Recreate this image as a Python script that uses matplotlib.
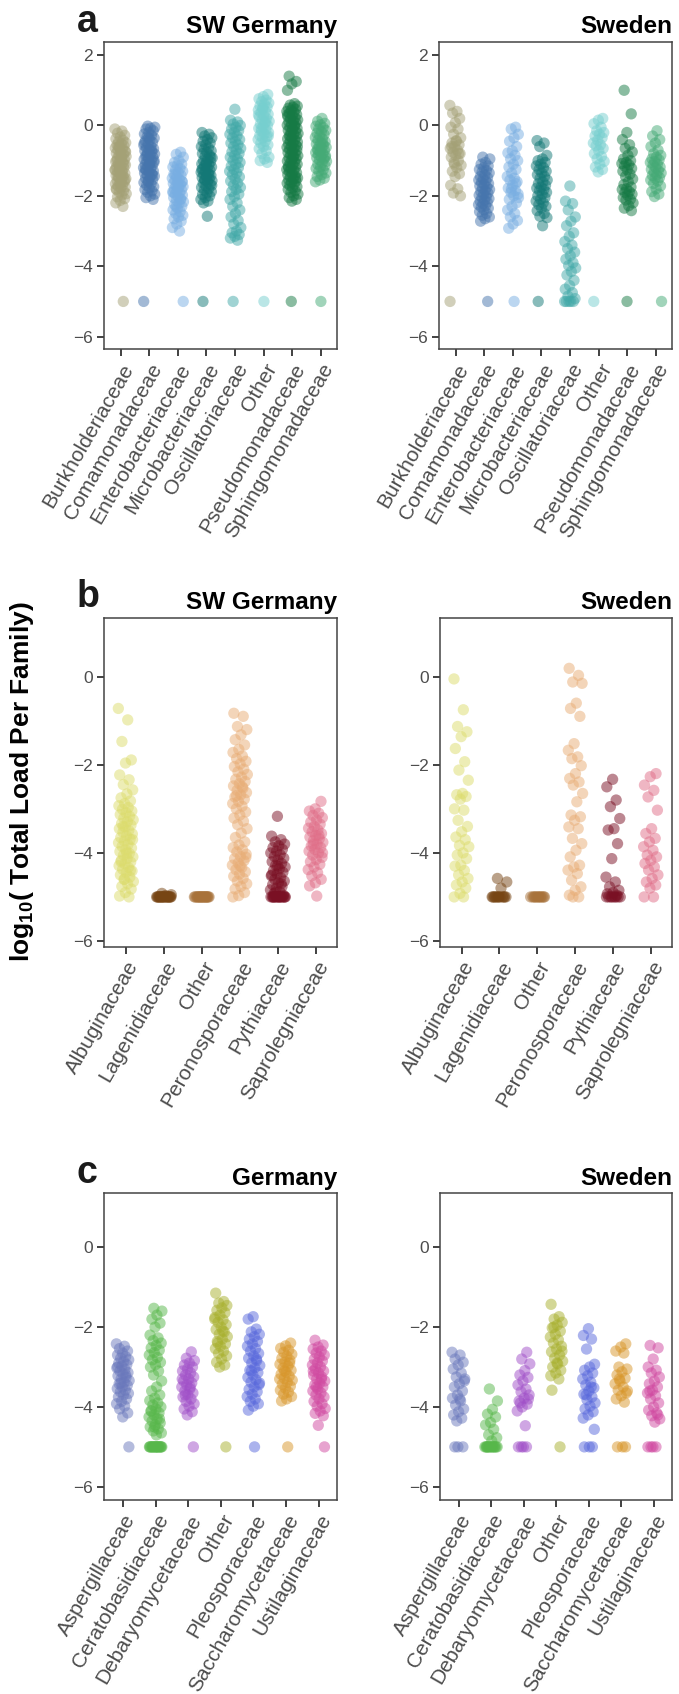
import numpy as np
import matplotlib
matplotlib.use("Agg")
import matplotlib.pyplot as plt

plt.rcParams["font.family"] = ["Liberation Sans", "DejaVu Sans"]
plt.rcParams["mathtext.fontset"] = "custom"
plt.rcParams["mathtext.rm"] = "Liberation Sans"
plt.rcParams["mathtext.bf"] = "Liberation Sans:bold"

W, H = 679, 1694

## families and colours
fam_a = ["Burkholderiaceae", "Comamonadaceae", "Enterobacteriaceae", "Microbacteriaceae",
         "Oscillatoriaceae", "Other", "Pseudomonadaceae", "Sphingomonadaceae"]
col_a = ["#a4a176", "#4675ad", "#78aee2", "#137876", "#42a9a8", "#76cfcf", "#167a45", "#45aa76"]

fam_b = ["Albuginaceae", "Lagenidiaceae", "Other", "Peronosporaceae", "Pythiaceae", "Saprolegniaceae"]
col_b = ["#dcdc6c", "#774514", "#a8723a", "#e8ac74", "#7a1024", "#e06e88"]

fam_c = ["Aspergillaceae", "Ceratobasidiaceae", "Debaryomycetaceae", "Other",
         "Pleosporaceae", "Saccharomycetaceae", "Ustilaginaceae"]
col_c = ["#6a78bc", "#57b74a", "#a04fc8", "#a8b02e", "#5868dc", "#d8962a", "#d048a0"]

## a: bacteria, SW Germany (log10 load per sample)
a_de_burk = [-0.1, -0.16, -0.22, -0.28, -0.33, -0.38, -0.42, -0.46, -0.49, -0.52, -0.55, -0.58,
             -0.61, -0.64, -0.67, -0.7, -0.73, -0.76, -0.79, -0.82, -0.85, -0.88, -0.91, -0.94,
             -0.97, -1.0, -1.03, -1.06, -1.09, -1.12, -1.15, -1.18, -1.21, -1.24, -1.27, -1.3,
             -1.33, -1.36, -1.39, -1.42, -1.45, -1.48, -1.51, -1.54, -1.57, -1.6, -1.63, -1.66,
             -1.69, -1.72, -1.75, -1.78, -1.82, -1.86, -1.9, -1.94, -1.98, -2.03, -2.08, -2.13,
             -2.2, -2.3, -0.6, -0.75, -0.9, -1.0, -1.1, -1.2, -1.25, -1.35, -1.45, -1.55, -1.65,
             -1.8, -5.0]
a_de_coma = [-0.02, -0.05, -0.08, -0.1, -0.15, -0.2, -0.24, -0.28, -0.32, -0.36, -0.4, -0.44,
             -0.48, -0.52, -0.56, -0.6, -0.63, -0.66, -0.69, -0.72, -0.75, -0.78, -0.81, -0.84,
             -0.87, -0.9, -0.93, -0.96, -0.99, -1.02, -1.05, -1.08, -1.11, -1.14, -1.17, -1.2,
             -1.23, -1.26, -1.29, -1.32, -1.35, -1.38, -1.41, -1.44, -1.47, -1.5, -1.54, -1.58,
             -1.62, -1.66, -1.7, -1.74, -1.78, -1.82, -1.86, -1.9, -1.95, -2.0, -2.05, -2.1,
             -0.35, -0.5, -0.7, -0.85, -1.0, -1.1, -1.25, -1.4, -1.6, -5.0]
a_de_ente = [-0.76, -0.82, -0.9, -1.0, -1.05, -1.1, -1.14, -1.18, -1.22, -1.26, -1.3, -1.34,
             -1.38, -1.42, -1.46, -1.5, -1.53, -1.56, -1.59, -1.62, -1.65, -1.68, -1.71, -1.74,
             -1.77, -1.8, -1.83, -1.86, -1.89, -1.92, -1.95, -1.98, -2.01, -2.05, -2.09, -2.13,
             -2.17, -2.21, -2.25, -2.3, -2.35, -2.4, -2.45, -2.5, -2.55, -2.6, -2.65, -2.72,
             -2.8, -2.9, -3.0, -1.4, -1.6, -1.75, -1.9, -2.1, -2.3, -5.0]
a_de_micr = [-0.2, -0.25, -0.3, -0.35, -0.4, -0.45, -0.5, -0.55, -0.6, -0.64, -0.68, -0.72,
             -0.76, -0.8, -0.84, -0.88, -0.92, -0.96, -1.0, -1.03, -1.06, -1.09, -1.12, -1.15,
             -1.18, -1.21, -1.24, -1.27, -1.3, -1.33, -1.36, -1.39, -1.42, -1.45, -1.48, -1.51,
             -1.54, -1.57, -1.6, -1.64, -1.68, -1.72, -1.76, -1.8, -1.84, -1.88, -1.92, -1.96,
             -2.0, -2.05, -2.1, -2.15, -2.2, -0.9, -1.1, -1.25, -1.4, -1.55, -1.7, -2.58, -5.0]
a_de_osci = [0.46, 0.15, 0.1, 0.04, 0.0, -0.05, -0.1, -0.15, -0.2, -0.25, -0.3, -0.35, -0.4,
             -0.45, -0.5, -0.55, -0.6, -0.65, -0.7, -0.75, -0.8, -0.85, -0.9, -0.95, -1.0, -1.05,
             -1.1, -1.15, -1.2, -1.25, -1.3, -1.35, -1.4, -1.46, -1.52, -1.58, -1.64, -1.7, -1.76,
             -1.82, -1.88, -1.95, -2.02, -2.1, -2.2, -2.3, -2.4, -2.5, -2.6, -2.7, -2.8, -2.9,
             -3.0, -3.05, -3.1, -3.15, -3.2, -3.26, -5.0]
a_de_othe = [0.88, 0.82, 0.76, 0.72, 0.68, 0.64, 0.6, 0.56, 0.52, 0.48, 0.44, 0.4, 0.36, 0.32,
             0.28, 0.24, 0.2, 0.16, 0.12, 0.08, 0.04, 0.0, -0.04, -0.08, -0.12, -0.16, -0.2,
             -0.24, -0.28, -0.32, -0.36, -0.4, -0.45, -0.5, -0.55, -0.6, -0.66, -0.72, -0.8,
             -0.9, -0.95, -1.0, -1.05, 0.5, 0.3, 0.1, -0.1, -0.3, -5.0]
a_de_pseu = [1.4, 1.25, 1.18, 1.0, 0.62, 0.58, 0.55, 0.52, 0.49, 0.46, 0.43, 0.4, 0.37, 0.34,
             0.31, 0.28, 0.25, 0.22, 0.19, 0.16, 0.13, 0.1, 0.07, 0.04, 0.01, -0.02, -0.05, -0.08,
             -0.11, -0.14, -0.17, -0.2, -0.23, -0.26, -0.29, -0.32, -0.35, -0.38, -0.41, -0.44,
             -0.47, -0.5, -0.53, -0.56, -0.59, -0.62, -0.65, -0.68, -0.71, -0.74, -0.77, -0.8,
             -0.83, -0.86, -0.89, -0.92, -0.95, -0.98, -1.01, -1.04, -1.07, -1.1, -1.13, -1.16,
             -1.19, -1.22, -1.25, -1.28, -1.31, -1.34, -1.37, -1.4, -1.43, -1.46, -1.49, -1.52,
             -1.55, -1.58, -1.61, -1.64, -1.67, -1.7, -1.74, -1.78, -1.82, -1.86, -1.9, -1.95,
             -2.0, -2.05, -2.1, -2.15, 0.3, 0.0, -0.3, -0.6, -0.9, -1.2, -1.5, -5.0]
a_de_sphi = [0.2, 0.12, 0.06, 0.02, -0.02, -0.06, -0.1, -0.14, -0.18, -0.22, -0.26, -0.3, -0.34,
             -0.38, -0.42, -0.46, -0.5, -0.53, -0.56, -0.59, -0.62, -0.65, -0.68, -0.71, -0.74,
             -0.77, -0.8, -0.83, -0.86, -0.89, -0.92, -0.95, -0.98, -1.02, -1.06, -1.1, -1.14,
             -1.18, -1.22, -1.26, -1.3, -1.35, -1.4, -1.45, -1.5, -1.55, -1.6, -0.5, -0.7, -0.9,
             -5.0]

## a: bacteria, Sweden
a_se_burk = [0.57, 0.4, 0.35, 0.2, 0.08, -0.05, -0.1, -0.25, -0.35, -0.43, -0.5, -0.55, -0.6,
             -0.65, -0.7, -0.76, -0.8, -0.85, -0.9, -1.0, -1.05, -1.13, -1.2, -1.3, -1.37, -1.45,
             -1.7, -1.8, -1.92, -2.0, -0.45, -0.6, -0.8, -1.1, -5.0]
a_se_coma = [-0.9, -0.95, -1.05, -1.1, -1.15, -1.2, -1.25, -1.28, -1.32, -1.35, -1.4, -1.45,
             -1.48, -1.52, -1.55, -1.58, -1.62, -1.65, -1.68, -1.72, -1.75, -1.78, -1.82, -1.85,
             -1.88, -1.92, -1.95, -1.98, -2.02, -2.05, -2.08, -2.12, -2.15, -2.18, -2.22, -2.25,
             -2.28, -2.32, -2.35, -2.4, -2.45, -2.5, -2.55, -2.6, -2.65, -2.72, -5.0]
a_se_ente = [-0.05, -0.1, -0.25, -0.35, -0.45, -0.6, -0.72, -0.78, -0.85, -0.95, -1.0, -1.1,
             -1.18, -1.25, -1.35, -1.45, -1.5, -1.55, -1.6, -1.7, -1.78, -1.85, -1.9, -1.95, -2.0,
             -2.1, -2.2, -2.3, -2.4, -2.5, -2.6, -2.7, -2.8, -2.92, -1.65, -1.8, -2.05, -5.0]
a_se_micr = [-0.43, -0.5, -0.6, -0.85, -0.95, -1.0, -1.05, -1.1, -1.15, -1.2, -1.25, -1.3, -1.35,
             -1.4, -1.45, -1.5, -1.55, -1.6, -1.65, -1.7, -1.75, -1.78, -1.82, -1.85, -1.9, -1.95,
             -2.0, -2.05, -2.1, -2.15, -2.2, -2.25, -2.3, -2.35, -2.42, -2.5, -2.58, -2.62, -2.85,
             -5.0]
a_se_osci = [-1.72, -2.15, -2.22, -2.4, -2.6, -2.72, -2.85, -3.05, -3.15, -3.3, -3.4, -3.5, -3.6,
             -3.7, -3.8, -3.9, -3.98, -4.05, -4.15, -4.25, -4.4, -4.55, -4.65, -4.75, -4.85, -4.92,
             -5.0, -5.0, -5.0, -5.0, -5.0]
a_se_othe = [0.2, 0.15, 0.05, -0.05, -0.15, -0.2, -0.25, -0.3, -0.35, -0.42, -0.5, -0.55, -0.58,
             -0.65, -0.72, -0.8, -0.88, -0.95, -1.02, -1.1, -1.18, -1.25, -1.32, -5.0]
a_se_pseu = [1.0, 0.33, -0.2, -0.4, -0.55, -0.65, -0.75, -0.85, -0.95, -1.0, -1.05, -1.08, -1.12,
             -1.15, -1.22, -1.26, -1.3, -1.38, -1.45, -1.52, -1.6, -1.68, -1.75, -1.8, -1.82,
             -1.88, -1.9, -1.95, -1.98, -2.05, -2.1, -2.12, -2.2, -2.28, -2.35, -2.42, -5.0]
a_se_sphi = [-0.15, -0.3, -0.4, -0.5, -0.6, -0.7, -0.8, -0.85, -0.9, -0.95, -0.98, -1.02, -1.05,
             -1.1, -1.12, -1.18, -1.2, -1.25, -1.28, -1.32, -1.35, -1.4, -1.42, -1.48, -1.5,
             -1.55, -1.58, -1.65, -1.72, -1.8, -1.88, -1.95, -2.02, -5.0]

## b: oomycetes, SW Germany
b_de_albu = [-0.72, -0.98, -1.47, -1.89, -1.96, -2.23, -2.34, -2.45, -2.57, -2.66, -2.75, -2.82,
             -2.88, -2.93, -2.97, -3.01, -3.05, -3.09, -3.13, -3.17, -3.21, -3.25, -3.29, -3.33,
             -3.37, -3.41, -3.45, -3.49, -3.53, -3.57, -3.61, -3.65, -3.69, -3.73, -3.77, -3.81,
             -3.85, -3.89, -3.93, -3.97, -4.01, -4.05, -4.09, -4.13, -4.17, -4.21, -4.25, -4.29,
             -4.33, -4.37, -4.41, -4.45, -4.5, -4.55, -4.6, -4.65, -4.7, -4.76, -4.82, -4.9,
             -4.98, -5.0, -3.4, -3.7, -4.0, -4.2, -4.4, -4.6]
b_de_lage = [-4.92, -4.95, -4.97] + [-5.0] * 20
b_de_othe = [-5.0] * 20
b_de_pero = [-0.83, -0.9, -1.13, -1.2, -1.32, -1.43, -1.55, -1.65, -1.72, -1.8, -1.86, -1.92,
             -1.98, -2.04, -2.1, -2.16, -2.22, -2.28, -2.33, -2.38, -2.43, -2.48, -2.53, -2.58,
             -2.63, -2.68, -2.73, -2.78, -2.83, -2.88, -2.94, -3.0, -3.07, -3.14, -3.21, -3.28,
             -3.36, -3.45, -3.55, -3.65, -3.75, -3.82, -3.88, -3.93, -3.98, -4.03, -4.08, -4.13,
             -4.18, -4.23, -4.28, -4.33, -4.38, -4.43, -4.48, -4.53, -4.58, -4.64, -4.7, -4.76,
             -4.82, -4.9, -4.97, -5.0, -2.5, -2.7, -4.1, -4.3]
b_de_pyth = [-3.17, -3.62, -3.7, -3.75, -3.8, -3.84, -3.88, -3.92, -3.96, -4.0, -4.04, -4.08,
             -4.12, -4.16, -4.2, -4.24, -4.28, -4.32, -4.36, -4.4, -4.44, -4.48, -4.52, -4.56,
             -4.6, -4.64, -4.68, -4.72, -4.76, -4.8, -4.84, -4.88, -4.92, -4.96, -4.3, -4.5, -4.7,
             -4.9] + [-5.0] * 16
b_de_sapr = [-2.83, -3.0, -3.05, -3.1, -3.15, -3.2, -3.25, -3.3, -3.35, -3.4, -3.44, -3.48,
             -3.52, -3.56, -3.6, -3.64, -3.68, -3.72, -3.76, -3.8, -3.84, -3.88, -3.92, -3.96,
             -4.0, -4.05, -4.1, -4.15, -4.2, -4.26, -4.32, -4.38, -4.45, -4.52, -4.6, -4.68,
             -4.75, -3.6, -3.8, -4.0, -4.98]

## b: oomycetes, Sweden
b_se_albu = [-0.05, -0.75, -1.13, -1.25, -1.36, -1.63, -1.93, -2.12, -2.35, -2.65, -2.68, -2.72,
             -2.78, -3.0, -3.03, -3.26, -3.4, -3.52, -3.64, -3.7, -3.83, -3.86, -4.0, -4.05, -4.13,
             -4.28, -4.3, -4.4, -4.5, -4.58, -4.66, -4.73, -4.8, -4.92, -5.0, -5.0]
b_se_lage = [-4.58, -4.66, -4.8] + [-5.0] * 12
b_se_othe = [-5.0] * 12
b_se_pero = [0.19, 0.03, -0.12, -0.15, -0.6, -0.72, -0.9, -1.52, -1.67, -1.82, -1.86, -2.02, -2.2,
             -2.31, -2.39, -2.46, -2.65, -2.84, -3.14, -3.18, -3.26, -3.41, -3.45, -3.67, -3.79,
             -3.94, -4.09, -4.28, -4.32, -4.39, -4.47, -4.62, -4.77, -4.85, -4.96, -5.0, -5.0]
b_se_pyth = [-2.33, -2.5, -2.8, -2.95, -3.22, -3.45, -3.48, -3.79, -4.13, -4.55, -4.66, -4.77,
             -4.85, -4.9, -4.93, -4.96] + [-5.0] * 8
b_se_sapr = [-2.2, -2.27, -2.46, -2.58, -2.73, -3.03, -3.45, -3.56, -3.67, -3.75, -3.86, -3.94,
             -4.05, -4.09, -4.17, -4.24, -4.32, -4.39, -4.5, -4.58, -4.66, -4.73, -4.8, -5.0, -5.0]

## c: fungi, Germany
c_de_asp = [-2.42, -2.48, -2.54, -2.6, -2.65, -2.7, -2.74, -2.78, -2.82, -2.86, -2.9, -2.94,
            -2.98, -3.02, -3.06, -3.1, -3.14, -3.18, -3.22, -3.26, -3.3, -3.34, -3.38, -3.42,
            -3.46, -3.5, -3.54, -3.58, -3.62, -3.66, -3.7, -3.75, -3.8, -3.86, -3.92, -3.98,
            -4.05, -4.15, -4.25, -3.0, -3.2, -3.4, -5.0]
c_de_cer = [-1.53, -1.6, -1.7, -1.8, -1.9, -2.0, -2.2, -2.27, -2.34, -2.4, -2.46, -2.52, -2.58,
            -2.64, -2.7, -2.76, -2.82, -2.88, -2.94, -3.0, -3.1, -3.2, -3.35, -3.5, -3.6, -3.7,
            -3.78, -3.84, -3.9, -3.95, -4.0, -4.05, -4.1, -4.15, -4.2, -4.25, -4.3, -4.35, -4.4,
            -4.45, -4.5, -4.55, -4.6, -4.65, -4.7, -4.1, -4.3, -4.5] + [-5.0] * 18
c_de_deb = [-2.62, -2.78, -2.84, -2.9, -2.95, -3.0, -3.05, -3.1, -3.15, -3.2, -3.25, -3.3, -3.35,
            -3.4, -3.45, -3.5, -3.55, -3.6, -3.65, -3.7, -3.75, -3.8, -3.86, -3.92, -3.98, -4.05,
            -4.12, -4.2, -3.3, -3.5, -3.7, -5.0]
c_de_oth = [-1.15, -1.36, -1.4, -1.46, -1.52, -1.58, -1.64, -1.7, -1.76, -1.82, -1.88, -1.94,
            -2.0, -2.06, -2.12, -2.18, -2.24, -2.3, -2.36, -2.42, -2.48, -2.54, -2.6, -2.66,
            -2.72, -2.8, -2.88, -2.95, -3.0, -1.8, -2.1, -2.4, -5.0]
c_de_ple = [-1.74, -1.8, -2.05, -2.12, -2.18, -2.24, -2.3, -2.36, -2.42, -2.48, -2.54, -2.6,
            -2.66, -2.72, -2.78, -2.84, -2.9, -2.96, -3.02, -3.08, -3.14, -3.2, -3.26, -3.32,
            -3.38, -3.44, -3.5, -3.56, -3.62, -3.68, -3.74, -3.8, -3.86, -3.92, -3.98, -4.08,
            -2.8, -3.1, -3.4, -5.0]
c_de_sac = [-2.4, -2.47, -2.53, -2.58, -2.63, -2.68, -2.73, -2.78, -2.83, -2.88, -2.93, -2.98,
            -3.03, -3.08, -3.13, -3.18, -3.23, -3.28, -3.33, -3.38, -3.43, -3.48, -3.53, -3.58,
            -3.63, -3.68, -3.74, -3.8, -3.85, -2.9, -3.1, -3.3, -5.0]
c_de_ust = [-2.33, -2.45, -2.5, -2.55, -2.6, -2.65, -2.7, -2.75, -2.8, -2.85, -2.9, -2.95, -3.0,
            -3.05, -3.1, -3.15, -3.2, -3.25, -3.3, -3.35, -3.4, -3.45, -3.5, -3.55, -3.6, -3.65,
            -3.7, -3.75, -3.8, -3.86, -3.92, -3.98, -4.04, -4.1, -4.16, -4.22, -4.46, -3.1,
            -3.3, -3.5, -5.0]

## c: fungi, Sweden
c_se_asp = [-2.63, -2.7, -2.8, -2.88, -2.95, -3.05, -3.15, -3.25, -3.35, -3.42, -3.5, -3.6, -3.7,
            -3.78, -3.85, -3.95, -4.05, -4.12, -4.2, -4.28, -4.35, -3.3, -3.8, -5.0, -5.0, -5.0]
c_se_cer = [-3.55, -3.85, -4.06, -4.18, -4.25, -4.39, -4.45, -4.56, -4.7, -4.77, -4.85] + [-5.0] * 14
c_se_deb = [-2.63, -2.8, -2.92, -3.09, -3.2, -3.26, -3.35, -3.45, -3.55, -3.62, -3.7, -3.78, -3.85,
            -3.93, -4.0, -4.1, -4.47, -3.9, -3.8, -5.0, -5.0, -5.0, -5.0]
c_se_oth = [-1.43, -1.74, -1.8, -1.88, -1.95, -2.02, -2.1, -2.18, -2.25, -2.32, -2.4, -2.48, -2.55,
            -2.62, -2.7, -2.78, -2.85, -2.92, -3.0, -3.08, -3.15, -3.22, -3.3, -2.0, -2.6, -2.9,
            -3.58, -5.0]
c_se_ple = [-2.04, -2.21, -2.3, -2.55, -2.93, -3.0, -3.08, -3.15, -3.22, -3.3, -3.38, -3.45, -3.52,
            -3.6, -3.68, -3.75, -3.82, -3.9, -3.98, -4.05, -4.12, -4.2, -4.28, -3.5, -3.7, -4.56,
            -5.0, -5.0, -5.0]
c_se_sac = [-2.42, -2.5, -2.6, -2.65, -3.0, -3.05, -3.12, -3.2, -3.28, -3.35, -3.42, -3.5, -3.58,
            -3.65, -3.72, -3.8, -3.88, -3.3, -3.6, -5.0, -5.0, -5.0]
c_se_ust = [-2.46, -2.52, -2.8, -3.0, -3.08, -3.15, -3.25, -3.35, -3.42, -3.5, -3.58, -3.65, -3.72,
            -3.8, -3.9, -4.0, -4.08, -4.15, -4.22, -4.3, -4.38, -3.6, -4.2, -5.0, -5.0, -5.0, -5.0]


fig = plt.figure(figsize=(W / 100, H / 100), dpi=100)


def px_axes(l, t, r, b):
    return fig.add_axes([l / W, 1 - b / H, (r - l) / W, (b - t) / H])


def strip(ax, groups, colors):
    # deterministic jitter (golden ratio sequence) so points spread sideways
    for k, (vals, c) in enumerate(zip(groups, colors)):
        frac = (np.arange(len(vals)) * 0.618034 + 0.37 * k) % 1.0
        xs = k + (frac - 0.5) * 0.4
        ax.scatter(xs, vals, s=66, color=c, alpha=0.5, edgecolors="none")


def style(ax, labels, ylim, yticks, title):
    n = len(labels)
    ax.set_xlim(-0.57, n - 1 + 0.57)
    ax.set_ylim(*ylim)
    ax.set_yticks(yticks)
    ax.set_xticks(range(n))
    ax.set_xticklabels(labels, rotation=60, ha="right", va="top",
                       rotation_mode="anchor", fontsize=15, color="#4d4d4d")
    ax.tick_params(axis="y", labelsize=12.5, labelcolor="#4d4d4d")
    ax.tick_params(length=5, width=1.3, color="#333333", direction="out", pad=3)
    for sp in ax.spines.values():
        sp.set_color("#444444")
        sp.set_linewidth(1.1)
    ax.set_title(title, loc="right", fontsize=17.5, fontweight="bold", pad=6)


# panel a
ax = px_axes(104.3, 41.7, 337.3, 349.3)
strip(ax, [a_de_burk, a_de_coma, a_de_ente, a_de_micr, a_de_osci, a_de_othe, a_de_pseu, a_de_sphi], col_a)
style(ax, fam_a, (-6.36, 2.38), [-6, -4, -2, 0, 2], "SW Germany")
ax = px_axes(439.3, 41.7, 672.3, 349.3)
strip(ax, [a_se_burk, a_se_coma, a_se_ente, a_se_micr, a_se_osci, a_se_othe, a_se_pseu, a_se_sphi], col_a)
style(ax, fam_a, (-6.36, 2.38), [-6, -4, -2, 0, 2], "Sweden")

# panel b
ax = px_axes(104.3, 617.7, 337.3, 946.7)
strip(ax, [b_de_albu, b_de_lage, b_de_othe, b_de_pero, b_de_pyth, b_de_sapr], col_b)
style(ax, fam_b, (-6.13, 1.34), [-6, -4, -2, 0], "SW Germany")
ax = px_axes(440, 617.7, 672.3, 946.7)
strip(ax, [b_se_albu, b_se_lage, b_se_othe, b_se_pero, b_se_pyth, b_se_sapr], col_b)
style(ax, fam_b, (-6.13, 1.34), [-6, -4, -2, 0], "Sweden")

# panel c
ax = px_axes(104.3, 1193.3, 337.3, 1500)
strip(ax, [c_de_asp, c_de_cer, c_de_deb, c_de_oth, c_de_ple, c_de_sac, c_de_ust], col_c)
style(ax, fam_c, (-6.33, 1.35), [-6, -4, -2, 0], "Germany")
ax = px_axes(440, 1193.3, 672.3, 1500)
strip(ax, [c_se_asp, c_se_cer, c_se_deb, c_se_oth, c_se_ple, c_se_sac, c_se_ust], col_c)
style(ax, fam_c, (-6.33, 1.35), [-6, -4, -2, 0], "Sweden")

# panel letters and shared y label
for letter, ybase in [("a", 31.7), ("b", 606.7), ("c", 1183.3)]:
    fig.text(77 / W, 1 - ybase / H, letter, fontsize=27, fontweight="bold",
             ha="left", va="baseline", color="#1a1a1a")

fig.text(22 / W, 1 - 782 / H, r"log$_{\mathbf{10}}$( Total Load Per Family)",
         rotation=90, fontsize=19, fontweight="bold", ha="center", va="center")

fig.savefig("out.png", dpi=100)
